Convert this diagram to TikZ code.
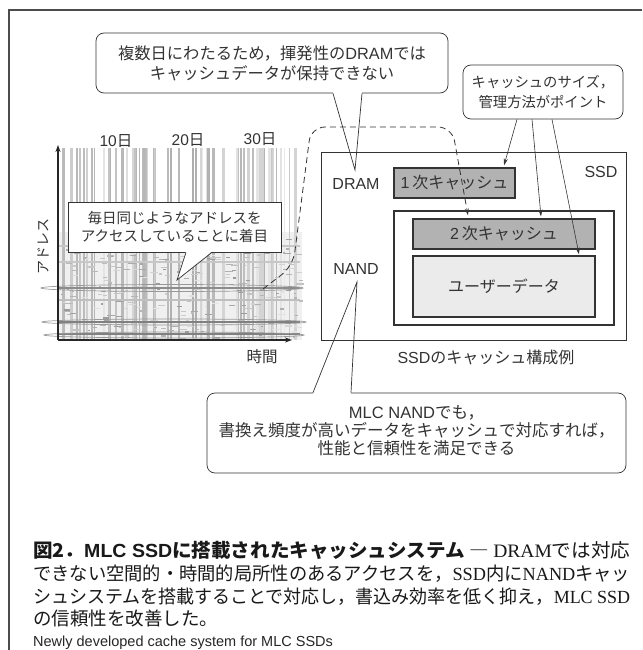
\documentclass[tikz,border=0pt]{standalone}
\usepackage{fontspec}
\usepackage{graphicx}
\setmainfont{Noto Sans CJK JP}
\newfontfamily\ls{Liberation Sans}
\newfontfamily\lser{Liberation Serif}
\usetikzlibrary{arrows.meta,calc}
\newcommand{\lat}[1]{{\ls #1}}
\newcommand{\lsr}[1]{{\lser #1}}
\definecolor{ink}{gray}{0.2}
\definecolor{boxgray}{gray}{0.70}
\definecolor{datagray}{gray}{0.92}
\begin{document}
\begin{tikzpicture}[x=1pt,y=-1pt,
  ln/.style={draw=ink, line width=0.7pt},
  bubble/.style={draw=ink, line width=0.7pt, fill=white, rounded corners=8pt, align=center, inner sep=0pt, text=ink},
  sqbubble/.style={draw=ink, line width=0.7pt, fill=white, align=center, inner sep=0pt, text=ink},
  cbox/.style={draw=ink, line width=1.1pt, fill=boxgray, inner sep=0pt, text=ink, font=\fontsize{16}{18}\selectfont},
  lbl/.style={inner sep=0pt, text=ink, font=\fontsize{16}{18}\selectfont},
  arr/.style={draw=ink, line width=0.6pt, -{Stealth[length=7pt,width=4pt]}},
  tail/.style={draw=ink, line width=0.7pt},
  capline/.style={anchor=base west, inner sep=0pt, text=black!90}
]
\useasboundingbox (0,0) rectangle (642,650);
\fill[white] (0,0) rectangle (642,650);
% frame
\draw[draw=black!70, line width=1.1pt] (9,650) -- (9,10) -- (642,10);

% ---------- heat map ----------
\pgfmathsetseed{12}
\fill[black!6] (58,232) rectangle (302,340);
\foreach \i in {1,...,75}{
  \pgfmathsetmacro{\xx}{60+240*rnd}
  \pgfmathsetmacro{\ww}{0.6+2.0*rnd}
  \pgfmathsetmacro{\cc}{8+24*rnd}
  \draw[line width=\ww pt, black!\cc] (\xx,148) -- (\xx,340);
}
\foreach \i in {1,...,320}{
  \pgfmathsetmacro{\xx}{58+242*rnd}
  \pgfmathsetmacro{\yy}{234+104*rnd}
  \pgfmathsetmacro{\ll}{2+6*rnd}
  \pgfmathsetmacro{\cc}{10+30*rnd}
  \fill[black!\cc] (\xx,\yy) rectangle ++(\ll,1.2);
}
\foreach \yy/\cc in {246/22,262/22,288/45,300/25,322/50,334/50}{
  \draw[black!\cc, line width=1.1pt] (58,\yy) -- (300,\yy);
}
\draw[black!40, line width=0.7pt] (172,288) ellipse (131 and 3.5);
\draw[black!40, line width=0.7pt] (174,322) ellipse (132 and 3);
\draw[black!40, line width=0.7pt] (174,335) ellipse (130 and 3);
\coordinate (org) at (58,340);
\coordinate (ytop) at (58,145);
\coordinate (xend) at (292,340);
\draw[black!85, line width=1.2pt, -{Stealth[length=7pt,width=5pt]}] (org) -- (ytop);
\draw[black!85, line width=1.2pt, -{Stealth[length=7pt,width=5pt]}] (org) -- (xend);
\node[lbl, font=\fontsize{15.5}{17}\selectfont] (d10) at (116,141) {\lat{10}日};
\node[lbl, font=\fontsize{15.5}{17}\selectfont] (d20) at (188,140) {\lat{20}日};
\node[lbl, font=\fontsize{15.5}{17}\selectfont] (d30) at (260,139) {\lat{30}日};
\node[lbl, font=\fontsize{14}{16}\selectfont, rotate=90] (addr) at (43,246) {アドレス};
\node[lbl, font=\fontsize{15.5}{17}\selectfont] (time) at (262,357) {時間};

% middle callout
\node[sqbubble, minimum width=213pt, minimum height=50pt, font=\fontsize{14.5}{18}\selectfont] (mc) at (174.5,227)
  {毎日同じようなアドレスを\\アクセスしていることに着目};
\coordinate (mctip) at (177,280);
\fill[white] ([xshift=11.5pt,yshift=1pt]mc.south) -- (mctip) -- ([xshift=37.5pt,yshift=1pt]mc.south) -- cycle;
\draw[tail] ([xshift=11.5pt]mc.south) -- (mctip) -- ([xshift=37.5pt]mc.south);

% ---------- SSD ----------
\node[lbl] (dram) at (356,184) {\lat{DRAM}};
\node[lbl] (nand) at (356,269) {\lat{NAND}};
\node[lbl] (ssdl) at (601,172) {\lat{SSD}};
\node[lbl, font=\fontsize{16}{18}\selectfont] (ssdcap) at (486,357) {\lat{SSD}のキャッシュ構成例};

% bottom callout
\node[bubble, minimum width=419pt, minimum height=80pt, font=\fontsize{16.5}{18}\selectfont] (bc) at (416.5,433)
  {\lat{MLC NAND}でも，\\書換え頻度が高いデータをキャッシュで対応すれば，\\性能と信頼性を満足できる\rule[-6pt]{0pt}{0pt}};
\coordinate (bctip) at (357,282);
\fill[white] ([xshift=-103.5pt,yshift=1pt]bc.north) rectangle ([xshift=-65.5pt,yshift=-1.2pt]bc.north);
\draw[tail] ([xshift=-103.5pt]bc.north) -- (bctip) -- ([xshift=-65.5pt]bc.north);

\draw[draw=ink, line width=0.8pt] (321,152) rectangle (626,340);
\node[draw=ink, line width=1.6pt, minimum width=220pt, minimum height=114pt, inner sep=0pt] (nandbox) at (504,268) {};
\node[cbox, minimum width=121pt, minimum height=30pt] (l1) at (454.5,183) {\lat{1}\,次キャッシュ};
\node[cbox, minimum width=182pt, minimum height=30pt] (l2) at (504,234) {\lat{2}\,次キャッシュ};
\node[cbox, fill=datagray, minimum width=182pt, minimum height=61pt] (ud) at (504,286.5) {ユーザーデータ};

% top callout
\node[bubble, minimum width=352pt, minimum height=60pt, font=\fontsize{16.3}{20}\selectfont] (tc) at (272,63)
  {複数日にわたるため，揮発性の\lat{DRAM}では\\キャッシュデータが保持できない};
\coordinate (tctip) at (355,170);
\fill[white] ([xshift=61pt,yshift=1pt]tc.south) rectangle ([xshift=90pt,yshift=-1.2pt]tc.south);
\draw[tail] ([xshift=61pt]tc.south) -- (tctip) -- ([xshift=90pt]tc.south);

% right callout
\node[bubble, minimum width=160pt, minimum height=54pt, font=\fontsize{14.3}{19.5}\selectfont] (rc) at (543,92)
  {キャッシュのサイズ，\\管理方法がポイント};
\draw[arr] ([xshift=-26pt]rc.south) -- ([xshift=49.5pt,yshift=2pt]l1.north);
\draw[arr] ([xshift=-11pt]rc.south) -- ([xshift=37pt,yshift=2pt]l2.north);
\draw[arr] ([xshift=9pt]rc.south) -- ([xshift=75pt,yshift=1pt]ud.north);

% dashed path
\draw[draw=ink, line width=0.8pt, dash pattern=on 6pt off 4pt, rounded corners=14pt, -{Stealth[length=7pt,width=4pt]}]
  (263,289) -- (293,266) -- (311,127) -- (452,127) -- ([xshift=-36pt,yshift=3pt]l2.north);

% ---------- caption ----------
\node[capline] (cap1) at (33,557)
  {\resizebox{597pt}{\height}{\fontsize{19}{22}\selectfont{\bfseries 図2．\lat{\bfseries MLC SSD}に搭載されたキャッシュシステム}\ ―\ \lsr{DRAM}では対応}};
\node[capline] (cap2) at (33,580)
  {\resizebox{597pt}{\height}{\fontsize{18.5}{22}\selectfont できない空間的・時間的局所性のあるアクセスを，\lsr{SSD}内に\lsr{NAND}キャッ}};
\node[capline] (cap3) at (33,603)
  {\resizebox{597pt}{\height}{\fontsize{18.5}{22}\selectfont シュシステムを搭載することで対応し，書込み効率を低く抑え，\lsr{MLC SSD}}};
\node[capline] (cap4) at (33,625)
  {\fontsize{18.5}{22}\selectfont の信頼性を改善した。};
\node[capline, text=black!85] (cap5) at (33,646)
  {\ls\fontsize{14.5}{18}\selectfont Newly developed cache system for MLC SSDs};
\end{tikzpicture}
\end{document}
